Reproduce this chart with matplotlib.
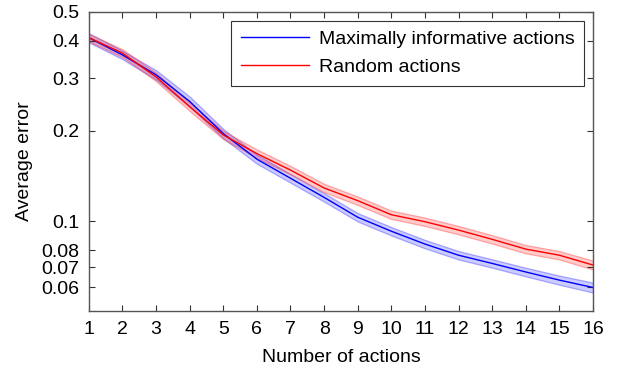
import matplotlib
matplotlib.use("Agg")
import matplotlib.pyplot as plt
from matplotlib.ticker import FixedLocator, NullLocator, FixedFormatter

plt.rcParams['font.family'] = ['Liberation Sans', 'DejaVu Sans']

actions = [1, 2, 3, 4, 5, 6, 7, 8, 9, 10, 11, 12, 13, 14, 15, 16]
informative = [0.410, 0.359, 0.308, 0.251, 0.196, 0.161, 0.139, 0.120,
               0.103, 0.0925, 0.0838, 0.0769, 0.0722, 0.0676, 0.0635, 0.0600]
informative_err = [0.035, 0.032, 0.036, 0.038, 0.036, 0.034, 0.033, 0.032,
                   0.032, 0.032, 0.032, 0.032, 0.032, 0.033, 0.035, 0.038]
random_act = [0.410, 0.364, 0.303, 0.241, 0.194, 0.168, 0.148, 0.129,
              0.117, 0.105, 0.0995, 0.0933, 0.0869, 0.0806, 0.0769, 0.0713]
random_err = [0.030, 0.030, 0.032, 0.032, 0.032, 0.032, 0.032, 0.032,
              0.032, 0.032, 0.032, 0.032, 0.032, 0.032, 0.032, 0.034]

yticks = [0.06, 0.07, 0.08, 0.1, 0.2, 0.3, 0.4, 0.5]
ytick_labels = ['0.06', '0.07', '0.08', '0.1', '0.2', '0.3', '0.4', '0.5']

fig = plt.figure(figsize=(6.17, 3.70), dpi=100)
ax = fig.add_axes([0.144, 0.159, 0.817, 0.809])

lo = [v * (1 - e) for v, e in zip(informative, informative_err)]
hi = [v * (1 + e) for v, e in zip(informative, informative_err)]
ax.fill_between(actions, lo, hi, facecolor=(0.0, 0.0, 1.0, 0.2), linewidth=0.9,
                edgecolor=(0.3, 0.3, 1.0, 0.45))
lo = [v * (1 - e) for v, e in zip(random_act, random_err)]
hi = [v * (1 + e) for v, e in zip(random_act, random_err)]
ax.fill_between(actions, lo, hi, facecolor=(1.0, 0.0, 0.0, 0.2), linewidth=0.9,
                edgecolor=(1.0, 0.3, 0.3, 0.45))

ax.plot(actions, informative, color='#0000ff', lw=1.0,
        label='Maximally informative actions')
ax.plot(actions, random_act, color='#ff0000', lw=1.0, label='Random actions')

ax.set_yscale('log')
ax.set_xlim(1, 16)
ax.set_ylim(0.05, 0.5)
ax.xaxis.set_major_locator(FixedLocator(actions))
ax.yaxis.set_major_locator(FixedLocator(yticks))
ax.yaxis.set_major_formatter(FixedFormatter(ytick_labels))
ax.yaxis.set_minor_locator(NullLocator())
ax.tick_params(direction='in', top=True, right=True, labelsize=14,
               length=4, width=0.8, color='#333333', pad=7)
for s in ax.spines.values():
    s.set_color('#555555')
    s.set_linewidth(1.0)

ax.set_xlabel('Number of actions', fontsize=14, labelpad=8)
ax.set_ylabel('Average error', fontsize=14, labelpad=6)

leg = ax.legend(loc='upper right', fontsize=14, fancybox=False,
                framealpha=1, edgecolor='#333333', borderaxespad=0.45,
                handlelength=3.5, handletextpad=0.5, borderpad=0.5,
                labelspacing=0.55)
leg.get_frame().set_linewidth(0.8)

fig.savefig('out.png', dpi=100)
